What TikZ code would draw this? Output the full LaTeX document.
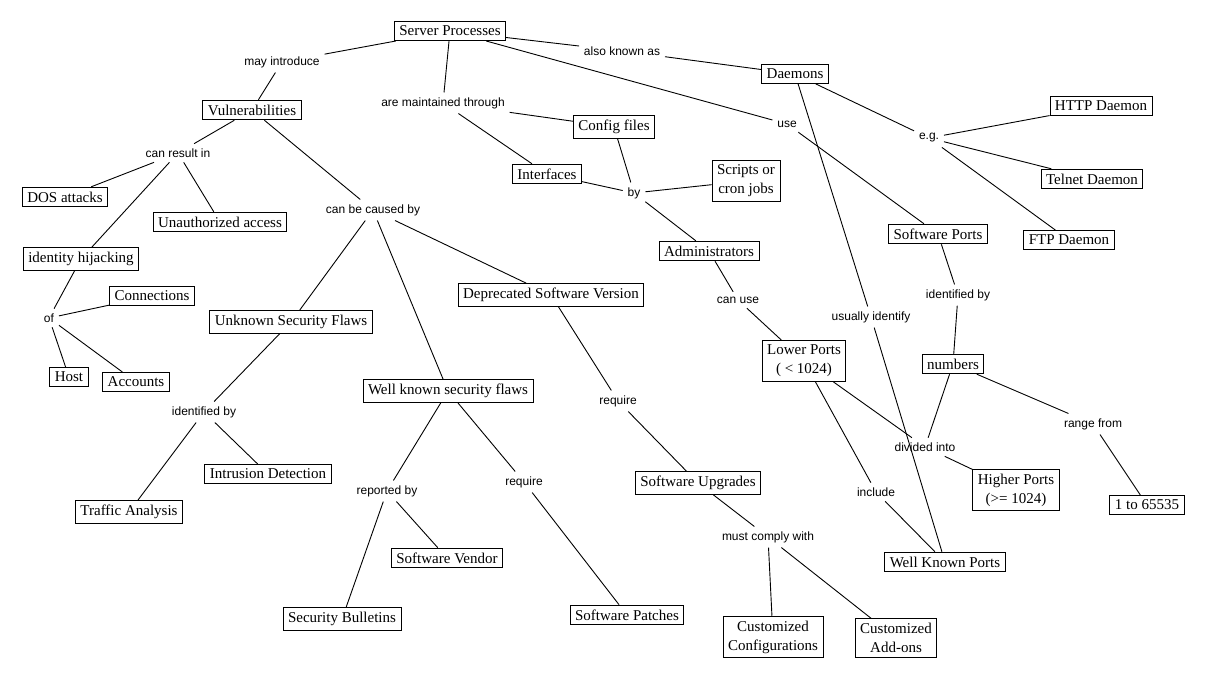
\documentclass[tikz,border=0pt]{standalone}
\usepackage{fontspec}
\setmainfont{Liberation Serif}
\newfontfamily\linkfont{Liberation Sans}

\begin{document}
\begin{tikzpicture}[x=1pt,y=-1pt,line width=0.9pt,
  concept/.style={draw,inner xsep=5pt,inner ysep=4.5pt,align=center,
    font=\fontsize{15}{19}\selectfont},
  link/.style={inner sep=4.5pt,font=\linkfont\fontsize{12}{14}\selectfont}]
\useasboundingbox (0,0) rectangle (1206,680);
% concepts
\node[concept] (sp) at (450,31) {Server Processes};
\node[concept] (vuln) at (252,110) {Vulnerabilities};
\node[concept] (daemons) at (795,74) {Daemons};
\node[concept] (cfg) at (614,127) {Config files};
\node[concept] (iface) at (547,174) {Interfaces};
\node[concept] (scripts) at (746,181) {Scripts or\\cron jobs};
\node[concept] (http) at (1101,106) {HTTP Daemon};
\node[concept] (telnet) at (1092,179) {Telnet Daemon};
\node[concept] (ftp) at (1069,240) {FTP Daemon};
\node[concept] (swports) at (938,234) {Software Ports};
\node[concept] (admin) at (709,251) {Administrators};
\node[concept] (dos) at (65,197) {DOS attacks};
\node[concept] (unauth) at (220,222) {Unauthorized access};
\node[concept] (idhijack) at (81,259) {identity hijacking};
\node[concept] (conn) at (152,296) {Connections};
\node[concept] (host) at (69,377) {Host};
\node[concept] (acc) at (136,382) {Accounts};
\node[concept] (unknown) at (291,322) {Unknown Security Flaws};
\node[concept] (intrusion) at (268,474) {Intrusion Detection};
\node[concept] (traffic) at (129,512) {Traffic Analysis};
\node[concept] (wellknown) at (448,391) {Well known security flaws};
\node[concept] (deprec) at (551,295) {Deprecated Software Version};
\node[concept] (upgrades) at (698,483) {Software Upgrades};
\node[concept] (vendor) at (447,558) {Software Vendor};
\node[concept] (bulletins) at (342,619) {Security Bulletins};
\node[concept] (patches) at (627,615) {Software Patches};
\node[concept] (custcfg) at (773,637) {Customized\\Configurations};
\node[concept] (custadd) at (896,638) {Customized\\Add-ons};
\node[concept] (wkports) at (945,562) {Well Known Ports};
\node[concept] (lower) at (804,361) {Lower Ports\\( < 1024)};
\node[concept] (numbers) at (953,364) {numbers};
\node[concept] (higher) at (1016,490) {Higher Ports\\(>= 1024)};
\node[concept] (range) at (1147,505) {1 to 65535};
% linking phrases
\node[link] (lmay) at (282,62) {may introduce};
\node[link] (lmaint) at (443,103) {are maintained through};
\node[link] (laka) at (622,51) {also known as};
\node[link] (luse) at (787,124) {use};
\node[link] (leg) at (929,138) {e.g.};
\node[link] (lresult) at (178,153) {can result in};
\node[link] (lcaused) at (373,210) {can be caused by};
\node[link] (lby) at (634,193) {by};
\node[link] (lidby) at (958,295) {identified by};
\node[link] (lusually) at (871,317) {usually identify};
\node[link] (lcanuse) at (738,300) {can use};
\node[link] (lof) at (49,318) {of};
\node[link] (lidby2) at (204,412) {identified by};
\node[link] (ldivided) at (925,447) {divided into};
\node[link] (lrange) at (1093,424) {range from};
\node[link] (lreq) at (618,401) {require};
\node[link] (lreq2) at (524,482) {require};
\node[link] (lreported) at (387,491) {reported by};
\node[link] (linclude) at (876,492) {include};
\node[link] (lcomply) at (768,537) {must comply with};
% connectors
\draw (sp) -- (lmay) (lmay) -- (vuln);
\draw (sp) -- (lmaint) (lmaint) -- (cfg) (lmaint) -- (iface);
\draw (sp) -- (laka) (laka) -- (daemons);
\draw (sp) -- (luse) (luse) -- (swports);
\draw (daemons) -- (leg) (leg) -- (http) (leg) -- (telnet) (leg) -- (ftp);
\draw (daemons) -- (lusually) (lusually) -- (wkports);
\draw (vuln) -- (lresult) (lresult) -- (dos) (lresult) -- (unauth) (lresult) -- (idhijack);
\draw (vuln) -- (lcaused) (lcaused) -- (unknown) (lcaused) -- (wellknown) (lcaused) -- (deprec);
\draw (idhijack) -- (lof) (lof) -- (conn) (lof) -- (host) (lof) -- (acc);
\draw (cfg) -- (lby) (iface) -- (lby) (lby) -- (scripts) (lby) -- (admin);
\draw (admin) -- (lcanuse) (lcanuse) -- (lower);
\draw (swports) -- (lidby) (lidby) -- (numbers);
\draw (numbers) -- (ldivided) (ldivided) -- (lower) (ldivided) -- (higher);
\draw (numbers) -- (lrange) (lrange) -- (range);
\draw (lower) -- (linclude) (linclude) -- (wkports);
\draw (unknown) -- (lidby2) (lidby2) -- (traffic) (lidby2) -- (intrusion);
\draw (deprec) -- (lreq) (lreq) -- (upgrades);
\draw (wellknown) -- (lreported) (lreported) -- (vendor) (lreported) -- (bulletins);
\draw (wellknown) -- (lreq2) (lreq2) -- (patches);
\draw (upgrades) -- (lcomply) (lcomply) -- (custcfg) (lcomply) -- (custadd);
\end{tikzpicture}
\end{document}
